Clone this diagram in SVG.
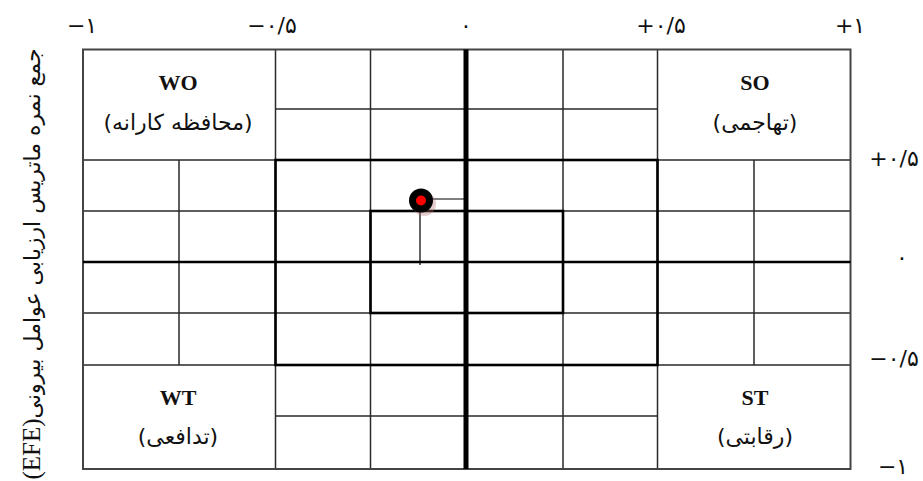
<svg xmlns="http://www.w3.org/2000/svg" width="923" height="481" viewBox="0 0 923 481">
<style>
.thin{stroke:#2a2a2a;stroke-width:1.5;fill:none}
.thick{stroke:#000;stroke-width:2.6;fill:none}
.fa{font-family:"DejaVu Sans",sans-serif;font-size:22px;fill:#111}
.en{font-family:"Liberation Serif",serif;font-weight:bold;font-size:22px;fill:#111}
.ax{font-family:"DejaVu Sans",sans-serif;font-size:22px;fill:#111}
</style>
<rect width="923" height="481" fill="#fff"/>
<g id="connectors">
<path class="thin" d="M83,160H850.5M83,211H850.5M83,313H850.5M83,365H850.5"/>
<path class="thin" d="M275.5,109H657.5M275.5,416H657.5"/>
<path class="thin" d="M275.5,49.5V469M370.5,49.5V469M563,49.5V469M657.5,49.5V469"/>
<path class="thin" d="M179,160V365M754,160V365"/>
<rect class="thin" x="83" y="49.5" width="767.5" height="419.5" style="stroke:#444;stroke-width:2"/>
<rect class="thick" x="275.5" y="160" width="382" height="205"/>
<rect class="thick" x="370.5" y="211" width="192.5" height="102"/>
<path class="thick" d="M83,262H850.5"/>
<path stroke="#000" stroke-width="5" d="M466,49.5V469"/>
<path stroke="#000" stroke-width="1.2" fill="none" d="M432,199H466M420,212V265"/>
</g>
<g id="point">
<circle cx="424" cy="204" r="12" fill="#b07070" opacity="0.35"/>
<circle cx="421" cy="200.5" r="12" fill="#000"/>
<circle cx="421" cy="200.5" r="5" fill="#f00"/>
</g>
<g id="WO">
<text class="en" x="178" y="90" text-anchor="middle">WO</text>
<text class="fa" x="178" y="130" text-anchor="middle" direction="rtl">(محافظه کارانه)</text>
</g>
<g id="SO">
<text class="en" x="755" y="90" text-anchor="middle">SO</text>
<text class="fa" x="755" y="130" text-anchor="middle" direction="rtl">(تهاجمی)</text>
</g>
<g id="WT">
<text class="en" x="178" y="405" text-anchor="middle">WT</text>
<text class="fa" x="178" y="444" text-anchor="middle" direction="rtl">(تدافعی)</text>
</g>
<g id="ST">
<text class="en" x="755" y="405" text-anchor="middle">ST</text>
<text class="fa" x="755" y="444" text-anchor="middle" direction="rtl">(رقابتی)</text>
</g>
<g id="top-axis">
<text class="ax" x="82" y="33" text-anchor="middle">−۱</text>
<text class="ax" x="272" y="33" text-anchor="middle">−۰/۵</text>
<text class="ax" x="466" y="33" text-anchor="middle">۰</text>
<text class="ax" x="661" y="33" text-anchor="middle">+۰/۵</text>
<text class="ax" x="850" y="33" text-anchor="middle">+۱</text>
</g>
<g id="right-axis">
<text class="ax" x="894" y="166" text-anchor="middle">+۰/۵</text>
<text class="ax" x="902" y="265" text-anchor="middle">۰</text>
<text class="ax" x="894" y="366" text-anchor="middle">−۰/۵</text>
<text class="ax" x="893" y="474" text-anchor="middle">−۱</text>
</g>
<g id="y-title">
<text transform="translate(40,264) rotate(-90)" class="fa" font-size="20" text-anchor="middle" direction="rtl">جمع نمره ماتریس ارزیابی عوامل بیرونی<tspan font-family="Liberation Serif, serif" font-size="25">(EFE)</tspan></text>
</g>
</svg>
